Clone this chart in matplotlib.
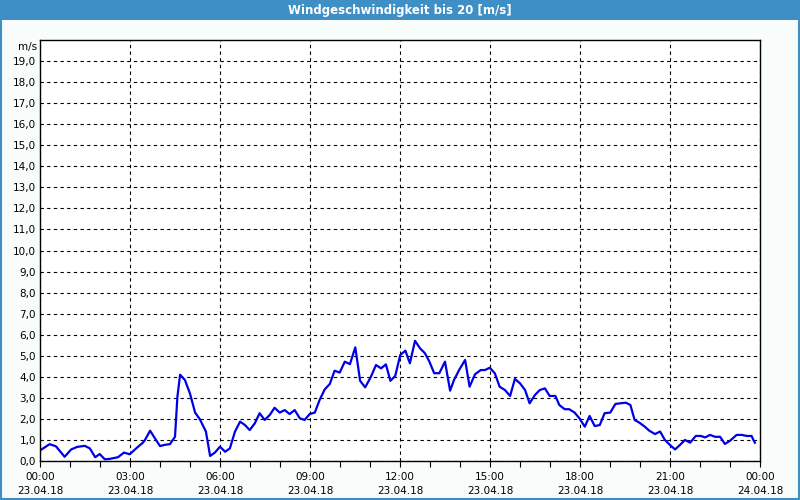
import numpy as np
import matplotlib
matplotlib.use("Agg")
import matplotlib.pyplot as plt
from matplotlib.patches import Rectangle

# wind speed readings, hours since 23.04.18 00:00
hours = [0.0, 0.32, 0.53, 0.82, 1.04, 1.24, 1.49, 1.66, 1.84, 1.99, 2.16, 2.32, 2.6, 2.8,
         2.99, 3.27, 3.43, 3.5, 3.67, 3.83, 4.0, 4.17, 4.33, 4.5, 4.58, 4.67, 4.83, 5.0, 5.17,
         5.33, 5.53, 5.67, 5.83, 6.0, 6.17, 6.33, 6.5, 6.67, 6.83, 6.99, 7.16, 7.32, 7.49,
         7.66, 7.82, 7.99, 8.16, 8.32, 8.49, 8.66, 8.82, 8.99, 9.16, 9.32, 9.49, 9.66, 9.82,
         9.99, 10.16, 10.33, 10.51, 10.67, 10.84, 11.03, 11.2, 11.37, 11.53, 11.68, 11.84,
         12.01, 12.18, 12.33, 12.5, 12.67, 12.83, 12.98, 13.14, 13.31, 13.5, 13.67, 13.8,
         13.97, 14.17, 14.32, 14.5, 14.69, 14.83, 14.99, 15.16, 15.32, 15.5, 15.67, 15.83,
         16.0, 16.17, 16.32, 16.5, 16.66, 16.83, 16.99, 17.18, 17.31, 17.49, 17.64, 17.82,
         17.98, 18.16, 18.32, 18.49, 18.66, 18.82, 19.01, 19.18, 19.34, 19.53, 19.68, 19.82,
         19.98, 20.16, 20.31, 20.5, 20.67, 20.83, 21.0, 21.17, 21.33, 21.5, 21.67, 21.86,
         22.03, 22.17, 22.33, 22.5, 22.67, 22.83, 23.0, 23.22, 23.39, 23.56, 23.72, 23.78,
         23.83]
speed = [0.5, 0.8, 0.7, 0.2, 0.55, 0.67, 0.72, 0.6, 0.18, 0.33, 0.08, 0.1, 0.18, 0.4,
         0.32, 0.68, 0.87, 1.0, 1.44, 1.08, 0.71, 0.77, 0.8, 1.15, 3.05, 4.1, 3.85, 3.2,
         2.3, 1.98, 1.4, 0.24, 0.4, 0.68, 0.44, 0.6, 1.4, 1.87, 1.71, 1.47, 1.79, 2.27,
         1.95, 2.19, 2.53, 2.3, 2.42, 2.23, 2.42, 2.03, 1.95, 2.23, 2.3, 2.9, 3.4, 3.66,
         4.29, 4.2, 4.72, 4.6, 5.4, 3.81, 3.5, 4.0, 4.56, 4.4, 4.59, 3.81, 4.04, 5.04,
         5.24, 4.64, 5.71, 5.35, 5.12, 4.72, 4.17, 4.17, 4.72, 3.34, 3.85, 4.32, 4.8, 3.53,
         4.12, 4.32, 4.32, 4.43, 4.17, 3.53, 3.37, 3.09, 3.9, 3.69, 3.37, 2.74, 3.14, 3.37,
         3.45, 3.09, 3.09, 2.66, 2.46, 2.46, 2.3, 2.03, 1.63, 2.14, 1.66, 1.71, 2.27, 2.3,
         2.71, 2.74, 2.77, 2.66, 1.95, 1.82, 1.63, 1.44, 1.28, 1.4, 1.0, 0.76, 0.55,
         0.76, 1.0, 0.87, 1.19, 1.19, 1.12, 1.24, 1.15, 1.15, 0.81, 0.96, 1.24, 1.24, 1.19,
         1.19, 1.0, 0.87]

x_labels = ["00:00\n23.04.18", "03:00\n23.04.18", "06:00\n23.04.18", "09:00\n23.04.18",
            "12:00\n23.04.18", "15:00\n23.04.18", "18:00\n23.04.18", "21:00\n23.04.18",
            "00:00\n24.04.18"]
y_ticks = np.arange(0, 20, 1)

bar_blue = "#3d8fc6"

fig = plt.figure(figsize=(8, 5), dpi=100)
fig.set_facecolor("#f8fcfb")

# title bar and outer border
fig.patches.append(Rectangle((0, 0.96), 1, 0.04, transform=fig.transFigure,
                             facecolor=bar_blue, edgecolor="none", zorder=0))
fig.patches.append(Rectangle((0.001, 0.002), 0.998, 0.996, transform=fig.transFigure,
                             facecolor="none", edgecolor=bar_blue, linewidth=1.5, zorder=1))
fig.text(0.5, 0.979, "Windgeschwindigkeit bis 20 [m/s]", color="white", fontsize=8.5,
         fontweight="bold", ha="center", va="center",
         family=["Liberation Sans Narrow", "DejaVu Sans"])

ax = fig.add_axes([0.05, 0.078, 0.90, 0.842])
ax.set_facecolor("white")
ax.plot(hours, speed, color="#0000e6", linewidth=1.6)

ax.set_xlim(0, 24)
ax.set_ylim(0, 20)
ax.set_xticks(np.arange(0, 25, 3))
ax.set_xticklabels(x_labels, fontsize=7.5, linespacing=1.45)
ax.set_xticks(np.arange(0, 25, 1), minor=True)
ax.set_yticks(y_ticks)
ax.set_yticklabels([f"{v},0" for v in y_ticks], fontsize=7.5)

ax.tick_params(axis="x", which="both", direction="out", length=4, width=0.8, pad=4)
ax.tick_params(axis="y", length=0, pad=3)
ax.grid(True, which="major", color="black", linestyle=(0, (3, 3)), linewidth=0.8)
for sp in ax.spines.values():
    sp.set_color("black")
    sp.set_linewidth(1.0)

fig.text(0.047, 0.906, "m/s", fontsize=7.5, ha="right", va="center")

fig.savefig("out.png", dpi=100, facecolor=fig.get_facecolor())
